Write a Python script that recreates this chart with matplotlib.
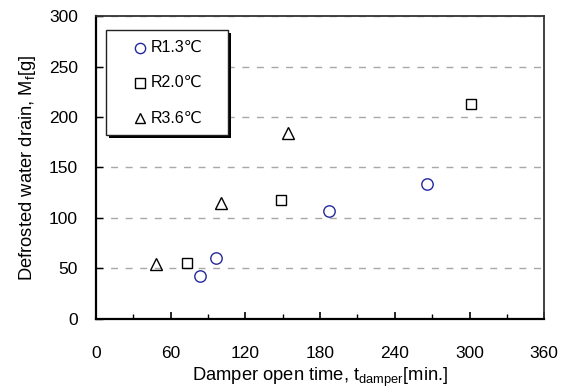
import matplotlib
matplotlib.use("Agg")
import matplotlib.pyplot as plt
from matplotlib.patches import Rectangle
from matplotlib.ticker import MultipleLocator

plt.rcParams['font.family'] = ['Liberation Sans', 'DejaVu Sans']
plt.rcParams['mathtext.fontset'] = 'custom'
plt.rcParams['mathtext.rm'] = 'Liberation Sans'
plt.rcParams['mathtext.default'] = 'regular'

# Données
labels = ['R1.3℃', 'R2.0℃', 'R3.6℃']
t_r13 = [83.4, 96.7, 187.3, 265.5]
m_r13 = [42.4, 60.0, 107.2, 133.1]
t_r20 = [73.4, 148.5, 301.4]
m_r20 = [55.0, 117.9, 213.3]
t_r36 = [48.0, 100.5, 154.6]
m_r36 = [54.3, 114.6, 184.1]

series = [(t_r13, m_r13), (t_r20, m_r20), (t_r36, m_r36)]
styles = [
    dict(marker='o', ms=8.2, mec='#24289c'),
    dict(marker='s', ms=7.3, mec='black'),
    dict(marker='^', ms=8.5, mec='black'),
]

fig = plt.figure(figsize=(5.64, 3.89), dpi=100)
ax = fig.add_axes([0.170, 0.181, 0.795, 0.777])

for (t, m), st in zip(series, styles):
    ax.plot(t, m, ls='none', mfc='none', mew=1.0, zorder=3, **st)

ax.set_xlim(0, 360)
ax.set_ylim(0, 300)
ax.xaxis.set_major_locator(MultipleLocator(60))
ax.xaxis.set_minor_locator(MultipleLocator(30))
ax.yaxis.set_major_locator(MultipleLocator(50))

ax.grid(axis='y', color='#a8a8a8', lw=1.0, ls=(0, (5, 5.5)))
ax.set_axisbelow(True)

ax.tick_params(axis='x', which='major', direction='in', length=5, width=1.2,
               pad=20, labelsize=12.5, top=False)
ax.tick_params(axis='x', which='minor', direction='in', length=3.5, width=1.0, top=False)
ax.tick_params(axis='y', direction='in', length=5, width=1.0, pad=13,
               labelsize=12.5, right=False)

for s in ['left', 'bottom']:
    ax.spines[s].set_linewidth(1.6)
    ax.spines[s].set_color('black')
for s in ['top', 'right']:
    ax.spines[s].set_linewidth(1.3)
    ax.spines[s].set_color('#333333')

ax.set_xlabel('Damper open time, t$_{damper}$[min.]', fontsize=13.2, labelpad=3)
ax.set_ylabel('Defrosted water drain, M$_f$[g]', fontsize=13.2, labelpad=8)

# Légende dessinée à la main (cadre avec ombre)
x0, y0, w, h = 0.0223, 0.6079, 0.2723, 0.3474
ombre = Rectangle((x0 + 0.007, y0 - 0.012), w, h, transform=ax.transAxes,
                  facecolor='black', edgecolor='none', zorder=4)
cadre = Rectangle((x0, y0), w, h, transform=ax.transAxes,
                  facecolor='white', edgecolor='#222222', lw=1.0, zorder=5)
ax.add_patch(ombre)
ax.add_patch(cadre)
rangs = [0.8958, 0.780, 0.6641]
for lab, st, yy in zip(labels, styles, rangs):
    ax.plot([0.0982], [yy], ls='none', mfc='none', mew=1.0,
            transform=ax.transAxes, zorder=6, clip_on=False,
            **{**st, 'ms': st['ms'] - 0.8})
    ax.text(0.122, yy, lab, transform=ax.transAxes, fontsize=11.5,
            va='center', ha='left', zorder=6)

fig.savefig('out.png', dpi=100)
